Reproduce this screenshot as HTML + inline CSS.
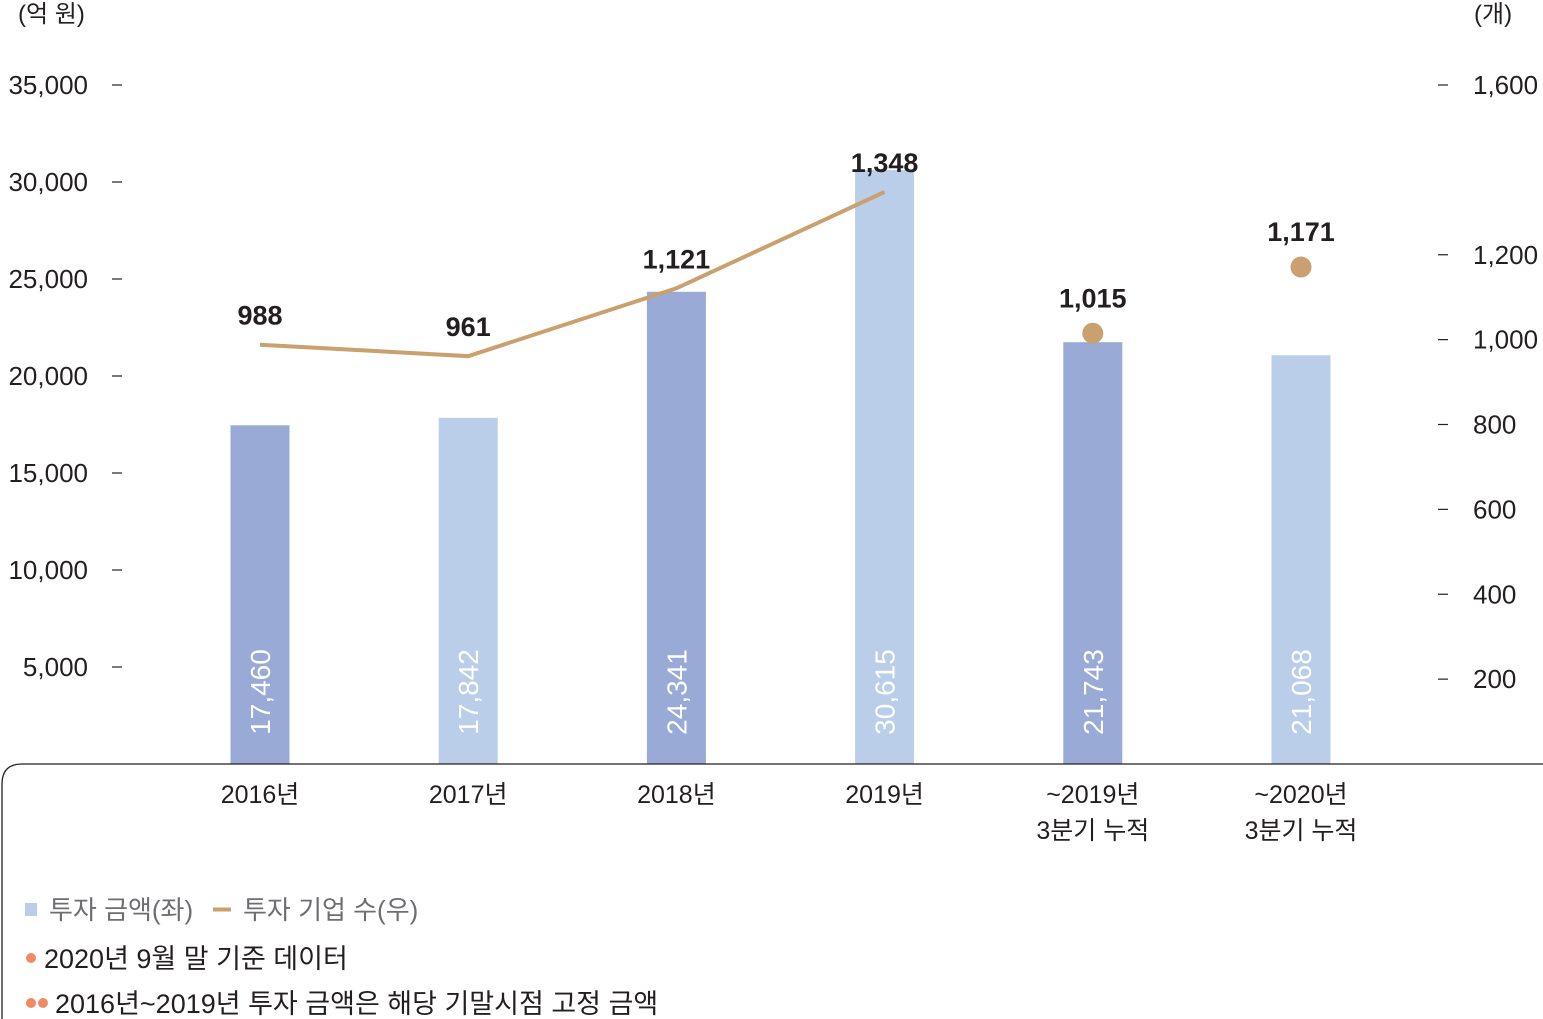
<!DOCTYPE html>
<html><head><meta charset="utf-8">
<style>
body{margin:0;background:#fff;}
svg{display:block;font-family:"Liberation Sans","Noto Sans CJK KR",sans-serif;}
</style></head>
<body>
<svg id="chart" width="1543" height="1019" viewBox="0 0 1543 1019" xmlns="http://www.w3.org/2000/svg"></svg>
<script>
const categories = ["2016년","2017년","2018년","2019년","~2019년|3분기 누적","~2020년|3분기 누적"];
const amounts = [17460,17842,24341,30615,21743,21068];
const companies = [988,961,1121,1348,1015,1171];
const lineCount = 4; // first 4 points are connected line, rest are dots
const leftTicks = [5000,10000,15000,20000,25000,30000,35000];
const rightTicks = [200,400,600,800,1000,1200,1600];

const svg = document.getElementById('chart');
const NS = 'http://www.w3.org/2000/svg';
const y0 = 764, yTop = 85;
const yL = v => y0 - v/35000*(y0-yTop);
const yR = v => y0 - v/1600*(y0-yTop);
const xC = i => 260 + i*208.2;
const barW = 59;
function el(tag, attrs, txt){const e=document.createElementNS(NS,tag);for(const k in attrs)e.setAttribute(k,attrs[k]);if(txt!==undefined)e.textContent=txt;svg.appendChild(e);return e;}

// axis titles
let t = el('text',{x:18,y:22,'font-size':24,fill:'#231f20'},'(억 원)');


t = el('text',{x:1474,y:22,'font-size':24,fill:'#231f20'},'(개)');



leftTicks.forEach(v=>{
  const y=yL(v);
  let l=el('line',{x1:112,x2:122,y1:y,y2:y,stroke:'#231f20','stroke-width':1.2});
  
  
  let tx=el('text',{x:88,y:y+9,'font-size':26,'text-anchor':'end',fill:'#231f20'},v.toLocaleString('en-US'));
  
  
});
rightTicks.forEach(v=>{
  const y=yR(v);
  let l=el('line',{x1:1438,x2:1448,y1:y,y2:y,stroke:'#231f20','stroke-width':1.2});
  
  
  let tx=el('text',{x:1473,y:y+9,'font-size':26,fill:'#231f20'},v.toLocaleString('en-US'));
  
  
});

// bars
amounts.forEach((v,i)=>{
  const y=yL(v);
  const color = i%2===0 ? '#99aad6' : '#bacee9';
  let r=el('rect',{x:xC(i)-barW/2,y:y,width:barW,height:y0-y,fill:color});
  
  
  let tx=el('text',{x:0,y:0,'font-size':28,fill:'#fff','text-anchor':'middle',transform:`translate(${xC(i)+10},${y0-72}) rotate(-90)`},v.toLocaleString('en-US'));
  
  
});

// frame
let fr=el('path',{d:`M1543 ${y0} H22 Q2 ${y0} 2 ${y0+20} V1019`,fill:'none',stroke:'#231f20','stroke-width':1.3});



// line
const pts = companies.slice(0,lineCount).map((v,i)=>`${xC(i)},${yR(v)}`).join(' ');
let pl=el('polyline',{points:pts,fill:'none',stroke:'#c9a06e','stroke-width':4});


companies.forEach((v,i)=>{
  if(i>=lineCount){
    let c=el('circle',{cx:xC(i),cy:yR(v),r:10.5,fill:'#c9a06e'});
    
    
  }
  const ly = i>=lineCount ? yR(v)-26 : yR(v)-20;
  let tx=el('text',{x:xC(i),y:ly,'font-size':27,'font-weight':'bold','text-anchor':'middle',fill:'#231f20'},v.toLocaleString('en-US'));
  
  
});

// category labels
categories.forEach((c,i)=>{
  c.split('|').forEach((line,j)=>{
    let tx=el('text',{x:xC(i),y:803+j*36,'font-size':25,'text-anchor':'middle',fill:'#231f20'},line);
    
    
  });
});

// legend
let sq=el('rect',{x:25,y:903,width:12,height:13,fill:'#bacee9'});


t=el('text',{x:49,y:919,'font-size':26,fill:'#6d6e71'},'투자 금액(좌)');


let ln=el('line',{x1:213,x2:231,y1:909.5,y2:909.5,stroke:'#c9a06e','stroke-width':4});


t=el('text',{x:243,y:919,'font-size':26,fill:'#6d6e71'},'투자 기업 수(우)');



let d1=el('circle',{cx:31,cy:958,r:5,fill:'#f08a65'});


t=el('text',{x:44,y:968,'font-size':27,fill:'#231f20'},'2020년 9월 말 기준 데이터');


[31,43].forEach(cx=>{
  let d=el('circle',{cx:cx,cy:1003,r:5,fill:'#f08a65'});
  
  
});
t=el('text',{x:55,y:1013,'font-size':27,fill:'#231f20'},'2016년~2019년 투자 금액은 해당 기말시점 고정 금액');


</script>
</body></html>
